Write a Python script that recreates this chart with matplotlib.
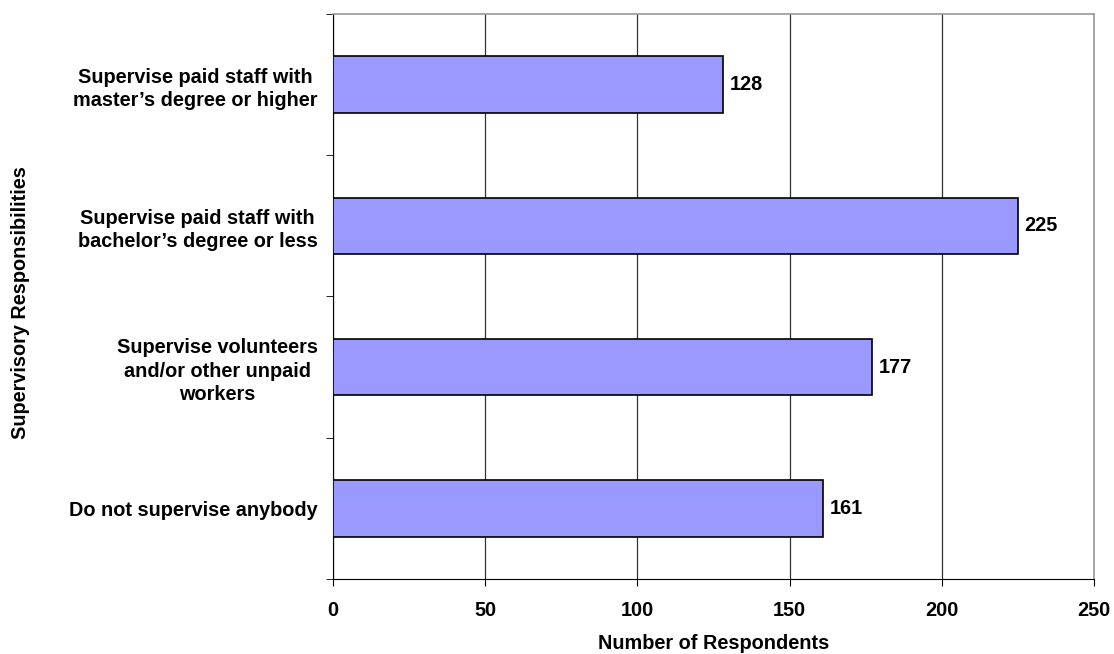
import matplotlib
matplotlib.use("Agg")
import matplotlib.pyplot as plt

# Data (top to bottom)
categories = [
    "Supervise paid staff with\nmaster\u2019s degree or higher",
    "Supervise paid staff with\nbachelor\u2019s degree or less",
    "Supervise volunteers\nand/or other unpaid\nworkers",
    "Do not supervise anybody",
]
counts = [128, 225, 177, 161]
x_ticks = [0, 50, 100, 150, 200, 250]

plt.rcParams["font.family"] = ["Liberation Sans", "DejaVu Sans"]
plt.rcParams["font.weight"] = "bold"
FS = 14.3

fig = plt.figure(figsize=(11.14, 6.54), dpi=100)
ax = fig.add_axes([0.2989, 0.1147, 0.6832, 0.8639])

n = len(categories)
ypos = list(range(n))
bars = ax.barh(ypos, counts, height=0.4, color="#9999FF",
               edgecolor="black", linewidth=1.2, zorder=3)

ax.set_ylim(n - 0.5, -0.5)
ax.set_xlim(0, 250)

# category labels without ticks; ticks at boundaries
ax.set_yticks(ypos)
ax.set_yticklabels(categories, fontsize=FS, fontweight="bold",
                   ha="right", multialignment="center", linespacing=1.3)
ax.tick_params(axis="y", length=0, pad=11)
ax.set_yticks([i - 0.5 for i in range(n + 1)], minor=True)
ax.tick_params(axis="y", which="minor", length=5, direction="out")

ax.set_xticks(x_ticks)
ax.set_xticklabels([str(t) for t in x_ticks], fontsize=FS, fontweight="bold")
ax.tick_params(axis="x", length=5, direction="out", pad=11)

ax.xaxis.grid(True, color="#333333", linewidth=0.9, zorder=0)
ax.set_axisbelow(True)

ax.spines["top"].set_color("#999999")
ax.spines["right"].set_color("#999999")
ax.spines["top"].set_linewidth(1.2)
ax.spines["right"].set_linewidth(1.2)

for b, v in zip(bars, counts):
    ax.text(v + 2.2, b.get_y() + b.get_height() / 2, str(v),
            va="center", ha="left", fontsize=FS, fontweight="bold")

ax.set_xlabel("Number of Respondents", fontsize=FS, fontweight="bold", labelpad=10)
fig.text(0.018, 0.538, "Supervisory Responsibilities", rotation=90,
         va="center", ha="center", fontsize=FS, fontweight="bold")

fig.savefig("out.png", dpi=100)
